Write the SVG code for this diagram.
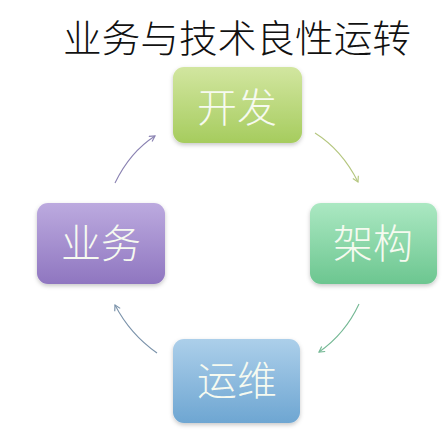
<svg xmlns="http://www.w3.org/2000/svg" width="446" height="430" viewBox="0 0 446 430">
<defs>
<linearGradient id="gGreen" x1="0" y1="0" x2="0" y2="1"><stop offset="0" stop-color="#d2e6a0"/><stop offset="1" stop-color="#a6cc5e"/></linearGradient>
<linearGradient id="gPurple" x1="0" y1="0" x2="0" y2="1"><stop offset="0" stop-color="#bcaadf"/><stop offset="1" stop-color="#8f76c0"/></linearGradient>
<linearGradient id="gMint" x1="0" y1="0" x2="0" y2="1"><stop offset="0" stop-color="#abe8c2"/><stop offset="1" stop-color="#6cc690"/></linearGradient>
<linearGradient id="gBlue" x1="0" y1="0" x2="0" y2="1"><stop offset="0" stop-color="#accfea"/><stop offset="1" stop-color="#6ea6d2"/></linearGradient>
<filter id="sh" x="-10%" y="-10%" width="120%" height="130%"><feDropShadow dx="0" dy="2" stdDeviation="2" flood-color="#000" flood-opacity="0.22"/></filter>
<marker id="aPur" viewBox="0 0 10 10" refX="8" refY="5" markerWidth="7" markerHeight="7" orient="auto"><path d="M1,1 L8,5 L1,9" fill="none" stroke="#8a82b2" stroke-width="1.5"/></marker>
<marker id="aYel" viewBox="0 0 10 10" refX="8" refY="5" markerWidth="7" markerHeight="7" orient="auto"><path d="M1,1 L8,5 L1,9" fill="none" stroke="#b4c67e" stroke-width="1.5"/></marker>
<marker id="aGrn" viewBox="0 0 10 10" refX="8" refY="5" markerWidth="7" markerHeight="7" orient="auto"><path d="M1,1 L8,5 L1,9" fill="none" stroke="#74b894" stroke-width="1.5"/></marker>
<marker id="aBlu" viewBox="0 0 10 10" refX="8" refY="5" markerWidth="7" markerHeight="7" orient="auto"><path d="M1,1 L8,5 L1,9" fill="none" stroke="#7a92aa" stroke-width="1.5"/></marker>
</defs>
<style>
.box{filter:url(#sh);}
.lbl{font-family:"Noto Sans CJK SC",sans-serif;font-size:40px;font-weight:300;fill:#f6faf0;text-anchor:middle;}
.title{font-family:"Noto Sans CJK SC",sans-serif;font-size:38px;font-weight:300;fill:#111;text-anchor:middle;}
.conn{fill:none;stroke-width:1.1;}
</style>
<rect width="446" height="430" fill="#fff"/>
<text class="title" x="237" y="52" textLength="348" lengthAdjust="spacingAndGlyphs">业务与技术良性运转</text>
<g id="connectors">
<path class="conn" d="M115,183 Q130,152 155,136" stroke="#8a82b2" marker-end="url(#aPur)"/>
<path class="conn" d="M315,133 Q342,150 358,182" stroke="#b4c67e" marker-end="url(#aYel)"/>
<path class="conn" d="M359,304 Q345,334 319,352" stroke="#74b894" marker-end="url(#aGrn)"/>
<path class="conn" d="M157,353 Q130,334 115,305" stroke="#7a92aa" marker-end="url(#aBlu)"/>
</g>
<g id="node-kaifa">
<rect class="box" x="173" y="67" width="129" height="76" rx="11" fill="url(#gGreen)"/>
<text class="lbl" x="237" y="122">开发</text>
</g>
<g id="node-yewu">
<rect class="box" x="37" y="203" width="128" height="81" rx="11" fill="url(#gPurple)"/>
<text class="lbl" x="101" y="258">业务</text>
</g>
<g id="node-jiagou">
<rect class="box" x="310" y="203" width="127" height="81" rx="11" fill="url(#gMint)"/>
<text class="lbl" x="373" y="258">架构</text>
</g>
<g id="node-yunwei">
<rect class="box" x="173" y="339" width="127" height="84" rx="11" fill="url(#gBlue)"/>
<text class="lbl" x="237" y="395">运维</text>
</g>
</svg>
